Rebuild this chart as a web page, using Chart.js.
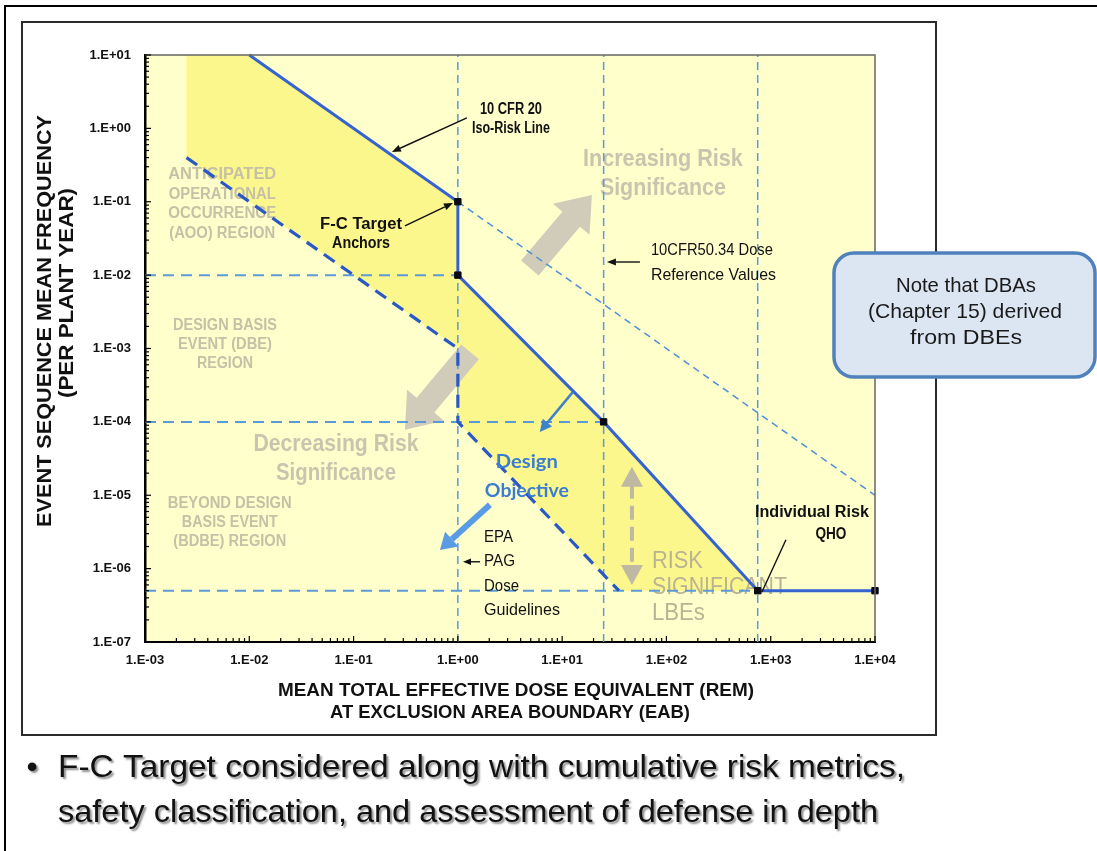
<!DOCTYPE html>
<html>
<head>
<meta charset="utf-8">
<script src="https://cdn.jsdelivr.net/npm/chart.js@4.4.1/dist/chart.umd.min.js"></script>
<style>
  html, body { margin: 0; padding: 0; background: #fff; }
  canvas { display: block; }
</style>
</head>
<body>
<canvas id="fcChart" width="1097" height="851"></canvas>
<script>
// -------------------------------
// DATA (dose in rem, frequency per plant year)
// -------------------------------
const xTickLabels = ["1.E-03", "1.E-02", "1.E-01", "1.E+00", "1.E+01", "1.E+02", "1.E+03", "1.E+04"];
const yTickLabels = ["1.E-07", "1.E-06", "1.E-05", "1.E-04", "1.E-03", "1.E-02", "1.E-01", "1.E+00", "1.E+01"];

// 10 CFR 20 iso-risk line + F-C target
const targetDose = [0.01, 1, 1, 25, 750, 10000];
const targetFreq = [10, 0.1, 0.01, 1e-4, 5e-7, 5e-7];
const targetAnchor = [0, 1, 1, 1, 1, 1];

// iso-risk line carried on past the first anchor
const isoDose = [1, 10000];
const isoFreq = [0.1, 1e-5];

// design objective (heavy dashed)
const objDose = [0.0025, 1, 1, 35];
const objFreq = [0.4, 1e-3, 1e-4, 5e-7];

// 10CFR50.34 / EPA PAG / QHO dose values
const refDoses = [1, 25, 750];
// frequency boundaries and the dose where each stops
const refFreqs = [1e-2, 1e-4, 5e-7];
const refFreqEnds = [1, 25, 750];

// shaded band between target and objective
const bandDose = [0.0025, 0.01, 1, 1, 25, 750, 35, 1, 1, 0.0025];
const bandFreq = [10, 10, 0.1, 0.01, 1e-4, 5e-7, 5e-7, 1e-4, 1e-3, 0.4];

// -------------------------------
// ANNOTATIONS (anchored in data coords)
// -------------------------------
const F = "'Liberation Sans', Arial, sans-serif";

const backLabels = [
  { lines: ["ANTICIPATED", "OPERATIONAL", "OCCURRENCE", "(AOO) REGION"], x: 0.0055, y: 0.232, step: 19.5,
    font: "bold 16px " + F, color: "#c6c0a6", widths: [108, 107, 108, 106] },
  { lines: ["DESIGN BASIS", "EVENT (DBE)", "REGION"], x: 0.00585, y: 0.00203, step: 19,
    font: "bold 16px " + F, color: "#c6c0a6", widths: [104, 94, 56] },
  { lines: ["BEYOND DESIGN", "BASIS EVENT", "(BDBE) REGION"], x: 0.0065, y: 7.6e-6, step: 19,
    font: "bold 16px " + F, color: "#c6c0a6", widths: [124, 96, 113] },
  { lines: ["Increasing Risk", "Significance"], x: 92.5, y: 0.371, step: 29,
    font: "bold 23px " + F, color: "#c9c4ae", widths: [160, 126] },
  { lines: ["Decreasing Risk", "Significance"], x: 0.0678, y: 4.86e-5, step: 29,
    font: "bold 23px " + F, color: "#c9c4ae", widths: [165, 120] },
  { lines: ["RISK", "SIGNIFICANT", "LBEs"], x: 72.6, y: 1.24e-6, step: 26, align: "left",
    font: "23px " + F, color: "#b9b394", widths: [51, 135, 53] },
];

const frontLabels = [
  { lines: ["10 CFR 20", "Iso-Risk Line"], x: 3.23, y: 1.78, step: 19,
    font: "bold 16px " + F, color: "#111", widths: [62, 78] },
  { lines: ["F-C Target", "Anchors"], x: 0.118, y: 0.0483, step: 19,
    font: "bold 16px " + F, color: "#111", widths: [82, 58] },
  { lines: ["10CFR50.34 Dose", "Reference Values"], x: 71, y: 0.022, step: 25, align: "left",
    font: "17px " + F, color: "#111", widths: [122, 125] },
  { lines: ["EPA", "PAG", "Dose", "Guidelines"], x: 1.78, y: 2.71e-6, step: 24.5, align: "left",
    font: "17px " + F, color: "#111", widths: [29, 31, 35, 76] },
  { lines: ["Individual Risk"], x: 2483, y: 5.75e-6, step: 0,
    font: "bold 16px " + F, color: "#111", widths: [114] },
  { lines: ["QHO"], x: 3776, y: 2.88e-6, step: 0,
    font: "bold 16px " + F, color: "#111", widths: [31] },
  { lines: ["Design", "Objective"], x: 4.59, y: 2.85e-5, step: 29,
    font: "bold 19px Lato, 'Open Sans', sans-serif", color: "#3b7dd0", widths: [62, 84] },
];

// black callout arrows: [fromDose, fromFreq, toDose, toFreq, head]
const callouts = [
  [1.22, 1.39, 0.233, 0.477, 9],
  [0.311, 0.0468, 0.897, 0.0964, 9],
  [55.7, 0.0151, 26.9, 0.0151, 9],
  [1.63, 1.24e-6, 1.12, 1.24e-6, 8],
  [1400, 2.47e-6, 824, 4.8e-7, 0],
];

// -------------------------------
// HELPERS
// -------------------------------
function toPx(chart, x, y) {
  return [chart.scales.x.getPixelForValue(x), chart.scales.y.getPixelForValue(y)];
}

// text squeezed/stretched to the width it has in the slide
function fitText(ctx, s, x, y, w, align) {
  const nat = ctx.measureText(s).width;
  ctx.save();
  ctx.translate(x, y);
  if (w) ctx.scale(w / nat, 1);
  ctx.textAlign = align || "center";
  ctx.fillText(s, 0, 0);
  ctx.restore();
}

function arrowLine(ctx, x1, y1, x2, y2, color, lw, hl, hw) {
  const a = Math.atan2(y2 - y1, x2 - x1);
  const bx = x2 - hl * Math.cos(a), by = y2 - hl * Math.sin(a);
  ctx.save();
  ctx.strokeStyle = color;
  ctx.fillStyle = color;
  ctx.lineWidth = lw;
  ctx.beginPath();
  ctx.moveTo(x1, y1);
  ctx.lineTo(hl > 0 ? bx : x2, hl > 0 ? by : y2);
  ctx.stroke();
  if (hl > 0) {
    ctx.beginPath();
    ctx.moveTo(x2, y2);
    ctx.lineTo(bx + (hw / 2) * Math.sin(a), by - (hw / 2) * Math.cos(a));
    ctx.lineTo(bx - (hw / 2) * Math.sin(a), by + (hw / 2) * Math.cos(a));
    ctx.closePath();
    ctx.fill();
  }
  ctx.restore();
}

function blockArrow(ctx, x1, y1, x2, y2, sw, hw, hl, color) {
  const a = Math.atan2(y2 - y1, x2 - x1);
  const len = Math.hypot(x2 - x1, y2 - y1);
  ctx.save();
  ctx.translate(x1, y1);
  ctx.rotate(a);
  ctx.fillStyle = color;
  ctx.beginPath();
  ctx.moveTo(0, -sw / 2);
  ctx.lineTo(len - hl, -sw / 2);
  ctx.lineTo(len - hl, -hw / 2);
  ctx.lineTo(len, 0);
  ctx.lineTo(len - hl, hw / 2);
  ctx.lineTo(len - hl, sw / 2);
  ctx.lineTo(0, sw / 2);
  ctx.closePath();
  ctx.fill();
  ctx.restore();
}

function drawLabel(ctx, chart, item) {
  const [x, y] = toPx(chart, item.x, item.y);
  ctx.save();
  ctx.font = item.font;
  ctx.fillStyle = item.color;
  ctx.textBaseline = "middle";
  item.lines.forEach((s, i) => {
    fitText(ctx, s, x, y + i * item.step, item.widths[i], item.align || "center");
  });
  ctx.restore();
}

function tickLabel(value, labels, minExp) {
  const e = Math.round(Math.log10(value));
  if (Math.abs(value - Math.pow(10, e)) / Math.pow(10, e) > 1e-6) return "";
  return labels[e - minExp] || "";
}

function logTicks(lo, hi) {
  const t = [];
  for (let e = lo; e <= hi; e++) {
    for (let m = 1; m <= 9; m++) {
      if (e === hi && m > 1) break;
      t.push({ value: m * Math.pow(10, e), major: m === 1 });
    }
  }
  return t;
}

function pts(xs, ys) {
  return xs.map((x, i) => ({ x: x, y: ys[i] }));
}

// -------------------------------
// DATASETS
// -------------------------------
const datasets = [];

datasets.push({
  data: pts(targetDose, targetFreq),
  borderColor: "#3563cf",
  borderWidth: 3,
  pointStyle: "rect",
  pointRadius: targetAnchor.map((a) => (a ? 4.5 : 0)),
  pointBackgroundColor: "#0a0a14",
  pointBorderColor: "#0a0a14",
  pointBorderWidth: 1,
  clip: false,
});

datasets.push({
  data: pts(objDose, objFreq),
  borderColor: "#2a58c4",
  borderWidth: 3.2,
  borderDash: [13, 8],
  pointRadius: 0,
});

datasets.push({
  data: pts(isoDose, isoFreq),
  borderColor: "#4d8fd6",
  borderWidth: 1.5,
  borderDash: [7, 5],
  pointRadius: 0,
});

refFreqs.forEach((f, i) => {
  datasets.push({
    data: [{ x: 1e-3, y: f }, { x: refFreqEnds[i], y: f }],
    borderColor: "#5b9ad8",
    borderWidth: 2,
    borderDash: [11, 7],
    pointRadius: 0,
  });
});

refDoses.forEach((d) => {
  datasets.push({
    data: [{ x: d, y: 1e-7 }, { x: d, y: 10 }],
    borderColor: "#5b9ad8",
    borderWidth: 1.5,
    borderDash: [8, 5],
    pointRadius: 0,
  });
});

// -------------------------------
// DRAWING PLUGIN
// -------------------------------
const decor = {
  id: "decor",
  beforeDraw(chart) {
    const ctx = chart.ctx;
    const a = chart.chartArea;
    ctx.save();
    ctx.fillStyle = "#fff";
    ctx.fillRect(0, 0, chart.width, chart.height);

    // slide frame
    ctx.strokeStyle = "#000";
    ctx.lineWidth = 2;
    ctx.beginPath();
    ctx.moveTo(5, chart.height);
    ctx.lineTo(5, 6);
    ctx.lineTo(chart.width, 6);
    ctx.stroke();

    // figure box
    ctx.strokeStyle = "#2b2b2b";
    ctx.strokeRect(22, 22, 914, 713);

    // plot background
    ctx.fillStyle = "#ffffcc";
    ctx.fillRect(a.left, a.top, a.right - a.left, a.bottom - a.top);
    ctx.restore();
  },
  beforeDatasetsDraw(chart) {
    const ctx = chart.ctx;
    const a = chart.chartArea;
    ctx.save();
    ctx.beginPath();
    ctx.rect(a.left, a.top, a.right - a.left, a.bottom - a.top);
    ctx.clip();

    // shaded band
    ctx.fillStyle = "#fbf78c";
    ctx.beginPath();
    bandDose.forEach((d, i) => {
      const [x, y] = toPx(chart, d, bandFreq[i]);
      if (i === 0) ctx.moveTo(x, y);
      else ctx.lineTo(x, y);
    });
    ctx.closePath();
    ctx.fill();

    // gray direction arrows
    let p = toPx(chart, 4.9, 0.0125), q = toPx(chart, 19.3, 0.124);
    blockArrow(ctx, p[0], p[1], q[0], q[1], 23, 48, 32, "#d1ccba");
    p = toPx(chart, 1.31, 9e-4);
    q = toPx(chart, 0.311, 7.8e-5);
    blockArrow(ctx, p[0], p[1], q[0], q[1], 23, 48, 32, "#d1ccba");

    backLabels.forEach((l) => drawLabel(ctx, chart, l));

    // risk significant double arrow
    p = toPx(chart, 46.7, 2.44e-5);
    q = toPx(chart, 46.7, 6.0e-7);
    ctx.save();
    ctx.strokeStyle = "#bfb8a2";
    ctx.fillStyle = "#bfb8a2";
    ctx.lineWidth = 4;
    ctx.setLineDash([14, 7]);
    ctx.beginPath();
    ctx.moveTo(p[0], p[1] + 18);
    ctx.lineTo(q[0], q[1] - 18);
    ctx.stroke();
    ctx.setLineDash([]);
    ctx.beginPath();
    ctx.moveTo(p[0], p[1]);
    ctx.lineTo(p[0] - 11, p[1] + 20);
    ctx.lineTo(p[0] + 11, p[1] + 20);
    ctx.closePath();
    ctx.fill();
    ctx.beginPath();
    ctx.moveTo(q[0], q[1]);
    ctx.lineTo(q[0] - 11, q[1] - 20);
    ctx.lineTo(q[0] + 11, q[1] - 20);
    ctx.closePath();
    ctx.fill();
    ctx.restore();

    ctx.restore();
  },
  afterDatasetsDraw(chart) {
    const ctx = chart.ctx;
    frontLabels.forEach((l) => drawLabel(ctx, chart, l));

    callouts.forEach((c) => {
      const p = toPx(chart, c[0], c[1]), q = toPx(chart, c[2], c[3]);
      arrowLine(ctx, p[0], p[1], q[0], q[1], "#111", 1.4, c[4], c[4] * 0.8);
    });

    // design objective arrows
    let p = toPx(chart, 12.7, 2.56e-4), q = toPx(chart, 6.1, 7.3e-5);
    arrowLine(ctx, p[0], p[1], q[0], q[1], "#3f82cc", 2.5, 12, 12);
    p = toPx(chart, 2.03, 7.4e-6);
    q = toPx(chart, 0.673, 1.8e-6);
    arrowLine(ctx, p[0], p[1], q[0], q[1], "#5a9be6", 6, 16, 20);
  },
  afterDraw(chart) {
    const ctx = chart.ctx;
    const a = chart.chartArea;
    ctx.save();

    // plot top / right edges
    ctx.strokeStyle = "#666";
    ctx.lineWidth = 1.5;
    ctx.beginPath();
    ctx.moveTo(a.left, a.top);
    ctx.lineTo(a.right, a.top);
    ctx.lineTo(a.right, a.bottom);
    ctx.stroke();

    // inner tick marks from the scales
    ctx.strokeStyle = "#000";
    ctx.lineWidth = 1.2;
    chart.scales.x.ticks.forEach((t) => {
      const x = chart.scales.x.getPixelForValue(t.value);
      ctx.beginPath();
      ctx.moveTo(x, a.bottom);
      ctx.lineTo(x, a.bottom - (t.major ? 6 : 4));
      ctx.stroke();
    });
    chart.scales.y.ticks.forEach((t) => {
      const y = chart.scales.y.getPixelForValue(t.value);
      ctx.beginPath();
      ctx.moveTo(a.left, y);
      ctx.lineTo(a.left + (t.major ? 6 : 4), y);
      ctx.stroke();
    });

    // axis titles
    ctx.fillStyle = "#111";
    ctx.textBaseline = "middle";
    ctx.font = "bold 18px " + F;
    fitText(ctx, "MEAN TOTAL EFFECTIVE DOSE EQUIVALENT (REM)", 516, 691, 476, "center");
    fitText(ctx, "AT EXCLUSION AREA BOUNDARY (EAB)", 510, 713, 360, "center");
    ctx.font = "bold 21px " + F;
    ctx.save();
    ctx.translate(45, 321);
    ctx.rotate(-Math.PI / 2);
    fitText(ctx, "EVENT SEQUENCE MEAN FREQUENCY", 0, 0, 412, "center");
    ctx.restore();
    ctx.save();
    ctx.translate(67, 293);
    ctx.rotate(-Math.PI / 2);
    fitText(ctx, "(PER PLANT YEAR)", 0, 0, 210, "center");
    ctx.restore();

    // note box
    ctx.fillStyle = "#dce6f2";
    ctx.strokeStyle = "#4f81bd";
    ctx.lineWidth = 3.5;
    ctx.beginPath();
    ctx.roundRect(834, 253, 261, 124, 20);
    ctx.fill();
    ctx.stroke();
    ctx.fillStyle = "#1a1a1a";
    ctx.font = "21px " + F;
    fitText(ctx, "Note that DBAs", 966, 286, 140, "center");
    fitText(ctx, "(Chapter 15) derived", 965, 312, 194, "center");
    fitText(ctx, "from DBEs", 966, 338, 112, "center");

    // bullet
    ctx.shadowColor = "rgba(0,0,0,0.45)";
    ctx.shadowOffsetX = 2;
    ctx.shadowOffsetY = 2;
    ctx.shadowBlur = 2;
    ctx.fillStyle = "#111";
    ctx.font = "32px " + F;
    fitText(ctx, "\u2022", 32, 768, 0, "center");
    fitText(ctx, "F-C Target considered along with cumulative risk metrics,", 58, 768, 847, "left");
    fitText(ctx, "safety classification, and assessment of defense in depth", 58, 813, 820, "left");
    ctx.restore();
  },
};

// -------------------------------
// CHART
// -------------------------------
new Chart(document.getElementById("fcChart"), {
  type: "scatter",
  data: { datasets: datasets },
  options: {
    responsive: false,
    animation: false,
    showLine: true,
    layout: { padding: { left: 0, top: 55, right: 222, bottom: 179 } },
    plugins: { legend: { display: false }, tooltip: { enabled: false } },
    elements: { line: { tension: 0, fill: false } },
    scales: {
      x: {
        type: "logarithmic",
        min: 1e-3,
        max: 1e4,
        afterBuildTicks: (s) => { s.ticks = logTicks(-3, 4); },
        afterFit: (s) => { s.height = 30; },
        grid: { display: false, drawTicks: false },
        border: { display: true, color: "#000", width: 2 },
        ticks: {
          autoSkip: false,
          maxRotation: 0,
          padding: 11,
          color: "#111",
          font: { family: F, size: 13, weight: "bold" },
          callback: (v) => tickLabel(v, xTickLabels, -3),
        },
      },
      y: {
        type: "logarithmic",
        min: 1e-7,
        max: 10,
        afterBuildTicks: (s) => { s.ticks = logTicks(-7, 1); },
        afterFit: (s) => { s.width = 145; },
        grid: { display: false, drawTicks: false },
        border: { display: true, color: "#000", width: 2.5 },
        ticks: {
          autoSkip: false,
          padding: 14,
          color: "#111",
          font: { family: F, size: 13, weight: "bold" },
          callback: (v) => tickLabel(v, yTickLabels, -7),
        },
      },
    },
  },
  plugins: [decor],
});
</script>
</body>
</html>
